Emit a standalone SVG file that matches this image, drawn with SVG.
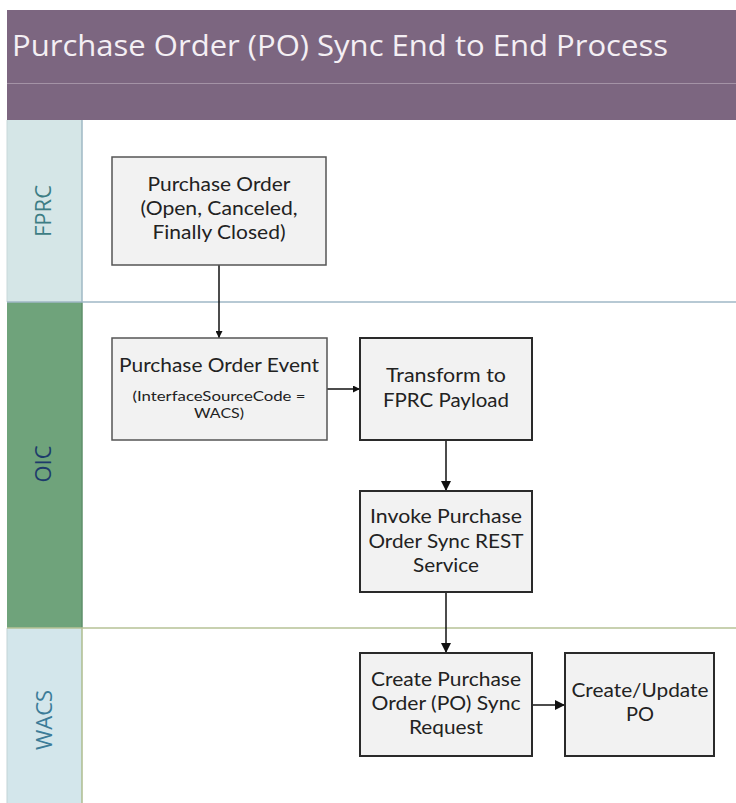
<svg xmlns="http://www.w3.org/2000/svg" width="736" height="803" viewBox="0 0 736 803">
<defs>
<style>
.box{fill:#f2f2f2;stroke:#555;stroke-width:1.5}
.boxd{fill:#f2f2f2;stroke:#2a2a2a;stroke-width:2}
.t{font-family:Lato,"Open Sans",sans-serif;font-size:19.5px;fill:#222;text-anchor:middle}
.ts{font-family:Lato,"Open Sans",sans-serif;font-size:14px;fill:#222;text-anchor:middle}
.lane{font-family:"Open Sans","Noto Sans",sans-serif;font-size:22px;text-anchor:middle}
.conn{fill:none;stroke:#111;stroke-width:1.5}
</style>
<marker id="arr" viewBox="0 0 10 10" refX="10" refY="5" markerWidth="7" markerHeight="7" markerUnits="userSpaceOnUse" orient="auto"><path d="M0,0 L10,5 L0,10 z" fill="#111"/></marker>
<marker id="arrb" viewBox="0 0 10 10" refX="10" refY="5" markerWidth="10" markerHeight="10" markerUnits="userSpaceOnUse" orient="auto"><path d="M0,0 L10,5 L0,10 z" fill="#111"/></marker>
</defs>
<rect width="736" height="803" fill="#ffffff"/>
<g id="header">
<rect x="7" y="10" width="729" height="110" fill="#7c6680"/>
<line x1="7" y1="83.5" x2="736" y2="83.5" stroke="#a493a6" stroke-width="1"/>
<text x="12" y="56" font-family="'Open Sans','Noto Sans',sans-serif" font-size="30" fill="#f4eff4" textLength="656" lengthAdjust="spacingAndGlyphs">Purchase Order (PO) Sync End to End Process</text>
</g>
<g id="lane-fprc">
<rect x="7" y="120" width="75" height="182" fill="#d5e6e7"/>
<line x1="82" y1="120" x2="82" y2="302" stroke="#9fb9c4" stroke-width="1.5"/>
<line x1="7" y1="120" x2="7" y2="302" stroke="#c8d8da" stroke-width="1"/>
<text class="lane" fill="#3d7d84" transform="translate(51,211) rotate(-90)">FPRC</text>
</g>
<g id="lane-oic">
<rect x="7" y="302" width="75" height="326" fill="#6fa37b"/>
<line x1="82" y1="302" x2="82" y2="628" stroke="#5e8f6a" stroke-width="1.5"/>
<text class="lane" fill="#1d3b6b" transform="translate(51,464) rotate(-90)">OIC</text>
</g>
<g id="lane-wacs">
<rect x="7" y="628" width="75" height="175" fill="#d3e6eb"/>
<line x1="82" y1="628" x2="82" y2="803" stroke="#aebd8f" stroke-width="1.5"/>
<line x1="7" y1="628" x2="7" y2="803" stroke="#c2d3d6" stroke-width="1"/>
<text class="lane" fill="#3c7c98" transform="translate(52,720) rotate(-90)">WACS</text>
</g>
<g id="lane-lines">
<line x1="7" y1="302" x2="736" y2="302" stroke="#9fb7c6" stroke-width="1.5"/>
<line x1="7" y1="628" x2="736" y2="628" stroke="#b6c296" stroke-width="1.5"/>
</g>
<g id="connectors">
<line class="conn" x1="219" y1="265" x2="219" y2="338" marker-end="url(#arr)"/>
<line class="conn" x1="327" y1="389" x2="360" y2="389" marker-end="url(#arr)"/>
<line class="conn" x1="446" y1="440" x2="446" y2="491" stroke-width="2" marker-end="url(#arrb)"/>
<line class="conn" x1="446" y1="592" x2="446" y2="653" stroke-width="2" marker-end="url(#arrb)"/>
<line class="conn" x1="532" y1="705" x2="565" y2="705" stroke-width="2" marker-end="url(#arrb)"/>
</g>
<g id="node-po">
<rect class="box" x="112" y="157" width="214" height="108"/>
<text class="t" x="219" y="191" textLength="143" lengthAdjust="spacingAndGlyphs">Purchase Order</text>
<text class="t" x="219" y="215" textLength="157" lengthAdjust="spacingAndGlyphs">(Open, Canceled,</text>
<text class="t" x="219" y="239" textLength="133" lengthAdjust="spacingAndGlyphs">Finally Closed)</text>
</g>
<g id="node-poevent">
<rect class="box" x="112" y="338" width="215" height="102"/>
<text class="t" x="219" y="372" textLength="200" lengthAdjust="spacingAndGlyphs">Purchase Order Event</text>
<text class="ts" x="219" y="401" textLength="173" lengthAdjust="spacingAndGlyphs">(InterfaceSourceCode =</text>
<text class="ts" x="219" y="418" textLength="50" lengthAdjust="spacingAndGlyphs">WACS)</text>
</g>
<g id="node-transform">
<rect class="boxd" x="360" y="338" width="172" height="102"/>
<text class="t" x="446" y="382" textLength="120" lengthAdjust="spacingAndGlyphs">Transform to</text>
<text class="t" x="446" y="407" textLength="126" lengthAdjust="spacingAndGlyphs">FPRC Payload</text>
</g>
<g id="node-invoke">
<rect class="boxd" x="360" y="491" width="172" height="101"/>
<text class="t" x="446" y="523" textLength="152" lengthAdjust="spacingAndGlyphs">Invoke Purchase</text>
<text class="t" x="446" y="548" textLength="155" lengthAdjust="spacingAndGlyphs">Order Sync REST</text>
<text class="t" x="446" y="572" textLength="66" lengthAdjust="spacingAndGlyphs">Service</text>
</g>
<g id="node-create">
<rect class="boxd" x="360" y="653" width="172" height="103"/>
<text class="t" x="446" y="686" textLength="150" lengthAdjust="spacingAndGlyphs">Create Purchase</text>
<text class="t" x="446" y="710" textLength="149" lengthAdjust="spacingAndGlyphs">Order (PO) Sync</text>
<text class="t" x="446" y="734" textLength="74" lengthAdjust="spacingAndGlyphs">Request</text>
</g>
<g id="node-update">
<rect class="boxd" x="565" y="653" width="149" height="103"/>
<text class="t" x="640" y="697" textLength="137" lengthAdjust="spacingAndGlyphs">Create/Update</text>
<text class="t" x="640" y="721" textLength="28" lengthAdjust="spacingAndGlyphs">PO</text>
</g>
</svg>
